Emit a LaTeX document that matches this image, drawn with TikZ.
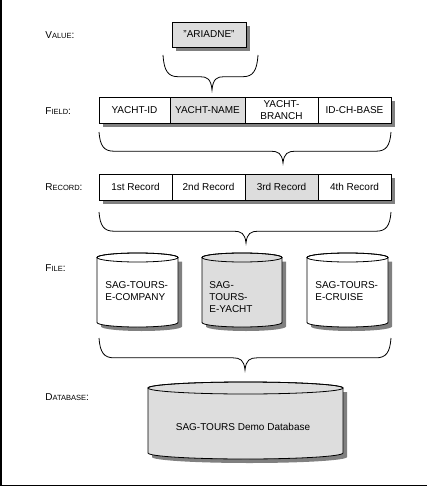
\documentclass[tikz,border=0pt]{standalone}
\usepackage{fontspec}
\setmainfont{Liberation Sans}
\definecolor{cellgray}{RGB}{221,221,221}
\definecolor{shadowgray}{RGB}{128,128,128}
\tikzset{
  cell/.style={draw, fill=white, line width=0.8pt, minimum height=26pt, inner sep=0pt,
    align=center, font=\fontsize{10}{11.5}\selectfont},
  level/.style={anchor=west, inner sep=0pt, font=\fontsize{10}{12}\selectfont},
  drumtext/.style={anchor=north west, inner sep=0pt, align=left, font=\fontsize{10}{12}\selectfont},
}
\newcommand{\smc}[1]{{\fontsize{7.5}{9}\selectfont #1}}

\begin{document}
\begin{tikzpicture}[x=1pt, y=1pt, line width=0.8pt]
  \useasboundingbox (0,0) rectangle (427,-487);
  % frame
  \draw [line width=1.5pt] (1,0) -- (1,-485.5) -- (427,-485.5);
  % level labels
  \node [level] (valuelbl) at (45,-35) {V\smc{ALUE}:};
  \node [level] (fieldlbl) at (45,-111) {F\smc{IELD}:};
  \node [level] (recordlbl) at (45,-187) {R\smc{ECORD}:};
  \node [level] (filelbl) at (45,-268) {F\smc{ILE}:};
  \node [level] (dblbl) at (45,-397) {D\smc{ATABASE}:};
  % value
  \fill [shadowgray] (176,-26) rectangle (250,-51);
  \node [cell, fill=cellgray, minimum width=74pt, minimum height=25pt] (value) at (209,-34.5) {"ARIADNE"};
  % fields
  \fill [shadowgray] (103,-101) rectangle (395,-127);
  \node [cell, minimum width=71pt] (yachtid) at (134.5,-110) {YACHT-ID};
  \node [cell, fill=cellgray, minimum width=75pt] (yachtname) at (207.5,-110) {YACHT-NAME};
  \node [cell, minimum width=73pt] (yachtbranch) at (281.5,-110) {YACHT-\\BRANCH};
  \node [cell, minimum width=73pt] (idchbase) at (354.5,-110) {ID-CH-BASE};
  % records
  \fill [shadowgray] (103,-178) rectangle (395,-204);
  \node [cell, minimum width=73pt] (rec1) at (135.5,-187) {1st Record};
  \node [cell, minimum width=73pt] (rec2) at (208.5,-187) {2nd Record};
  \node [cell, fill=cellgray, minimum width=73pt] (rec3) at (281.5,-187) {3rd Record};
  \node [cell, minimum width=73pt] (rec4) at (354.5,-187) {4th Record};
  % files
  \foreach \l/\r/\fc in {97/178/white, 202/282/cellgray, 307/388/white} {
    \pgfmathsetmacro\rx{(\r-\l)/2}
    \fill [shadowgray] (\l+4,-261.5) -- (\l+4,-326.5)
      arc [start angle=180, end angle=360, x radius=\rx pt, y radius=4.5pt] -- (\r+4,-261.5) -- cycle;
    \filldraw [fill=\fc] (\l,-257.5) -- (\l,-322.5)
      arc [start angle=180, end angle=360, x radius=\rx pt, y radius=4.5pt] -- (\r,-257.5)
      arc [start angle=0, end angle=180, x radius=\rx pt, y radius=4.5pt] -- cycle;
    \draw (\l/2+\r/2,-257.5) ellipse [x radius=\rx pt, y radius=4.5pt];
  }
  \node [drumtext] (company) at (105,-281.5) {SAG-TOURS-\\E-COMPANY};
  \node [drumtext] (yacht) at (209,-281.5) {SAG-\\TOURS-\\E-YACHT};
  \node [drumtext] (cruise) at (315,-281.5) {SAG-TOURS-\\E-CRUISE};
  % database
  \fill [shadowgray] (152,-392) -- (152,-457)
    arc [start angle=180, end angle=360, x radius=97.5pt, y radius=6pt] -- (347,-392) -- cycle;
  \filldraw [fill=cellgray] (148,-388) -- (148,-453)
    arc [start angle=180, end angle=360, x radius=97.5pt, y radius=6pt] -- (343,-388)
    arc [start angle=0, end angle=180, x radius=97.5pt, y radius=6pt] -- cycle;
  \draw (245.5,-388) ellipse [x radius=97.5pt, y radius=6pt];
  \node [font=\fontsize{10}{12}\selectfont] (demodb) at (243,-427) {SAG-TOURS Demo Database};
  % braces
  \foreach \l/\r/\t/\x/\b in {163/258/55/212/90, 99/391/132/283/163, 99/391/212/246/243, 99/391/338/245/370} {
    \pgfmathsetmacro\h{\b-\t}
    \pgfmathsetmacro\m{\t+0.62*\h}
    \draw (\l,-\t) .. controls (\l+1,-\t-0.45*\h) and (\l+5,-\m) .. (\l+15,-\m) -- (\x-12,-\m)
      .. controls (\x-5,-\m) and (\x-1,-\m-2) .. (\x,-\b)
      .. controls (\x+1,-\m-2) and (\x+5,-\m) .. (\x+12,-\m) -- (\r-15,-\m)
      .. controls (\r-5,-\m) and (\r-1,-\t-0.45*\h) .. (\r,-\t);
  }
\end{tikzpicture}
\end{document}
